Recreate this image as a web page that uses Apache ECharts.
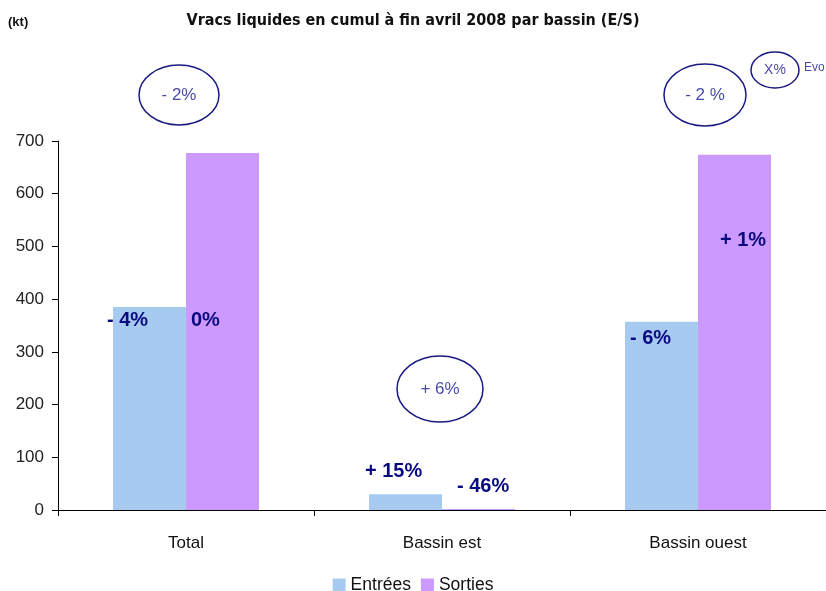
<!DOCTYPE html>
<html><head><meta charset="utf-8">
<script src="https://cdn.jsdelivr.net/npm/echarts@6/dist/echarts.min.js"></script>
<style>html,body{margin:0;padding:0;background:#fff}#c{width:826px;height:591px}</style>
</head><body><div id="c"></div>
<script>
const categories = ['Total', 'Bassin est', 'Bassin ouest'];
const entrees = [385, 30, 357];
const sorties = [677, 2, 674];
const entreesEvo = ['- 4%', '+ 15%', '- 6%'];
const sortiesEvo = ['0%', '- 46%', '+ 1%'];
const totalEvo = ['- 2%', '+ 6%', '- 2 %'];
const yTicks = [0, 700, 100];

const entreesLabelPos = [[-6, 13], [-4, -23], [5, 17]];
const sortiesLabelPos = [[5, 167], [15, -22], [22, 86]];

const labelStyle = {show: true, color: '#0a0a80', fontWeight: 'bold', fontSize: 20,
  fontFamily: 'Liberation Sans, Arial, sans-serif', verticalAlign: 'middle', align: 'left'};

function items(vals, evo, pos) {
  return vals.map((v, i) => ({value: v, label: Object.assign({}, labelStyle, {position: pos[i], formatter: evo[i]})}));
}

const chart = echarts.init(document.getElementById('c'));
const ellStroke = '#1a1a80';
const ellText = '#4a4aa8';
function ellipse(cx, cy, rx, ry, txt, fs) {
  return [
    {type: 'ellipse', shape: {cx: cx, cy: cy, rx: rx, ry: ry}, style: {fill: 'none', stroke: ellStroke, lineWidth: 1.5}, z: 10},
    {type: 'text', x: cx, y: cy, style: {text: txt, fill: ellText, font: (fs||17) + 'px Liberation Sans, Arial, sans-serif', textAlign: 'center', textVerticalAlign: 'middle'}, z: 11}
  ];
}
chart.setOption({
  animation: false,
  backgroundColor: '#fff',
  title: {text: 'Vracs liquides en cumul à fin avril 2008 par bassin (E/S)', left: 'center', top: 8,
    textStyle: {fontSize: 16, fontWeight: 'bold', color: '#111', fontFamily: 'DejaVu Sans Condensed, Liberation Sans, sans-serif'}},
  legend: {top: 571, left: 'center', itemWidth: 13, itemHeight: 13, itemGap: 10, icon: 'rect',
    textStyle: {fontSize: 17.5, color: '#111', fontFamily: 'Liberation Sans, Arial, sans-serif'}},
  grid: {left: 58, top: 141, bottom: 81, width: 771},
  xAxis: {type: 'category', data: categories,
    axisLine: {lineStyle: {color: '#000', width: 1}},
    axisTick: {show: true, length: 6, lineStyle: {color: '#000'}},
    axisLabel: {fontSize: 17, color: '#111', margin: 25, fontFamily: 'Liberation Sans, Arial, sans-serif'}},
  yAxis: {type: 'value', min: yTicks[0], max: yTicks[1], interval: yTicks[2],
    splitLine: {show: false},
    axisLine: {show: true, lineStyle: {color: '#000', width: 1}},
    axisTick: {show: true, length: 6, lineStyle: {color: '#000'}},
    axisLabel: {fontSize: 17, color: '#222', margin: 14, fontFamily: 'Liberation Sans, Arial, sans-serif'}},
  series: [
    {name: 'Entrées', type: 'bar', data: items(entrees, entreesEvo, entreesLabelPos), barWidth: 73, barGap: '0%',
      itemStyle: {color: '#a6caf0'}},
    {name: 'Sorties', type: 'bar', data: items(sorties, sortiesEvo, sortiesLabelPos), barWidth: 73, barGap: '0%',
      itemStyle: {color: '#cc99ff'}}
  ],
  graphic: [
    {type: 'text', left: 8, top: 16, style: {text: '(kt)', fill: '#111', font: 'bold 13px Liberation Sans, Arial, sans-serif'}},
    ...ellipse(179, 95, 40, 30, totalEvo[0]),
    ...ellipse(440, 389, 43, 33, totalEvo[1]),
    ...ellipse(705, 95, 41, 31, totalEvo[2]),
    ...ellipse(775, 70, 24, 18, 'X%', 14),
    {type: 'text', x: 804, y: 68, style: {text: 'Evo', fill: ellText, font: '12px Liberation Sans, Arial, sans-serif', textVerticalAlign: 'middle'}}
  ]
});
</script></body></html>
